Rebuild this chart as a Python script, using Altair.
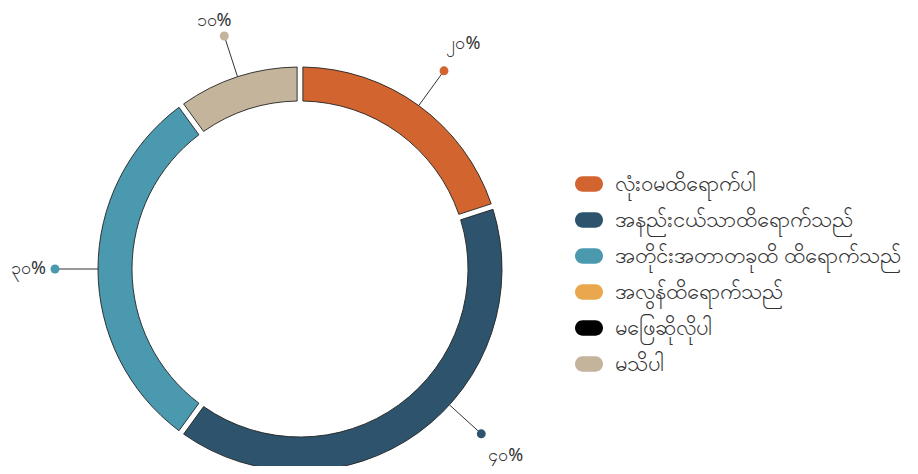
import altair as alt
import pandas as pd
import numpy as np

# ---- data -------------------------------------------------------------
categories = [
    "လုံးဝမထိရောက်ပါ",
    "အနည်းငယ်သာထိရောက်သည်",
    "အတိုင်းအတာတခုထိ ထိရောက်သည်",
    "အလွန်ထိရောက်သည်",
    "မဖြေဆိုလိုပါ",
    "မသိပါ",
]
values = [20, 40, 30, 0, 0, 10]
labels = ["၂၀%", "၄၀%", "၃၀%", "၀%", "၀%", "၁၀%"]
colors = ["#D2642F", "#2D536D", "#4A99AF", "#E9A84D", "#000000", "#C4B49B"]

# ---- layout constants (pixels, plot coordinates) ------------------------
W, H = 902, 458
CX, CY = 292, 261
R_OUT, R_IN = 202, 168
R_DOT = 245 / R_OUT      # in units of outer radius
R_TXT = 278 / R_OUT
SIDE_GAP = 9 / R_OUT
BOTTOM_LIMIT = (H - 10 - CY) / R_OUT
TOP_LIMIT = (CY - 13) / R_OUT

df = pd.DataFrame({"cat": categories, "value": values, "label": labels,
                   "idx": list(range(len(categories)))})
total = df["value"].sum()
df["end"] = df["value"].cumsum() / total * 2 * np.pi
df["start"] = df["end"] - df["value"] / total * 2 * np.pi
df["mid"] = (df["start"] + df["end"]) / 2

# keep labels inside the chart box (rotate towards horizontal at the bottom)
ang = []
for a in df["mid"]:
    if np.cos(a) * R_TXT < -BOTTOM_LIMIT:
        c = BOTTOM_LIMIT / R_TXT
        a = (np.pi - np.arccos(c)) if np.sin(a) > 0 else (np.pi + np.arccos(c))
    ang.append(a)
df["la"] = ang
df["x0"] = np.sin(df["la"])
df["y0"] = np.cos(df["la"])
df["xd"] = np.sin(df["la"]) * R_DOT
df["yd"] = np.cos(df["la"]) * R_DOT
df["xt"] = np.sin(df["la"]) * R_TXT
df["yt"] = np.clip(np.cos(df["la"]) * R_TXT, -BOTTOM_LIMIT, TOP_LIMIT)
df["align"] = "center"
side_l = np.sin(df["la"]) < -0.9
side_r = np.sin(df["la"]) > 0.9
df.loc[side_l, "xt"] = df.loc[side_l, "xd"] - SIDE_GAP
df.loc[side_l, "yt"] = df.loc[side_l, "yd"]
df.loc[side_l, "align"] = "right"
df.loc[side_r, "xt"] = df.loc[side_r, "xd"] + SIDE_GAP
df.loc[side_r, "yt"] = df.loc[side_r, "yd"]
df.loc[side_r, "align"] = "left"

nz = df[df["value"] > 0]

color_scale = alt.Scale(domain=categories, range=colors)
xs = alt.Scale(domain=[-1, 1], range=[CX - R_OUT, CX + R_OUT])
ys = alt.Scale(domain=[-1, 1], range=[CY + R_OUT, CY - R_OUT])

pill = ("M-0.45,-0.55 L0.45,-0.55 A0.55,0.55 0 0 1 0.45,0.55 "
        "L-0.45,0.55 A0.55,0.55 0 0 1 -0.45,-0.55 Z")

arcs = alt.Chart(nz).mark_arc(
    innerRadius=R_IN, outerRadius=R_OUT, padAngle=0.022,
    stroke="#222222", strokeWidth=0.9
).encode(
    theta=alt.Theta("value:Q", stack=True),
    order=alt.Order("idx:Q"),
    color=alt.Color("cat:N", scale=color_scale, sort=categories,
                    legend=alt.Legend(title=None, orient="none", legendX=567, legendY=162,
                                      symbolType=pill, symbolSize=784, symbolStrokeWidth=0,
                                      labelFontSize=22, labelColor="#333333", labelLimit=500,
                                      labelOffset=12, rowPadding=11,
                                      values=categories)),
    x=alt.value(CX), y=alt.value(CY),
)

lines = alt.Chart(nz).mark_rule(color="#333333", strokeWidth=1).encode(
    x=alt.X("x0:Q", scale=xs, axis=None), y=alt.Y("y0:Q", scale=ys, axis=None),
    x2="xd:Q", y2="yd:Q",
)

dots = alt.Chart(nz).mark_circle(size=80, opacity=1).encode(
    x=alt.X("xd:Q", scale=xs, axis=None), y=alt.Y("yd:Q", scale=ys, axis=None),
    color=alt.Color("cat:N", scale=color_scale, legend=None),
)

def text_layer(align):
    sub = nz[nz["align"] == align]
    return alt.Chart(sub).mark_text(fontSize=18, color="#333333", align=align,
                                    baseline="middle").encode(
        x=alt.X("xt:Q", scale=xs, axis=None), y=alt.Y("yt:Q", scale=ys, axis=None),
        text="label:N",
    )

texts = [text_layer(a) for a in ["center", "left", "right"] if (nz["align"] == a).any()]

chart = alt.layer(arcs, lines, dots, *texts).properties(
    width=W, height=H, padding=0, autosize=alt.AutoSizeParams(type="none")
).configure(font="Noto Sans").configure_view(stroke=None)

chart.save("out.html", embed_options={"renderer": "svg", "actions": False})
